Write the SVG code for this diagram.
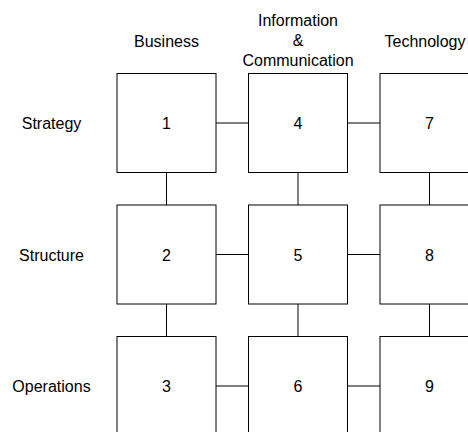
<svg xmlns="http://www.w3.org/2000/svg" width="468" height="432" viewBox="0 0 468 432">
<style>
text{font-family:"Liberation Sans",Arial,sans-serif;font-size:16px;fill:#000;text-anchor:middle}
.box{fill:#fff;stroke:#000;stroke-width:1}
.c{stroke:#000;stroke-width:1;fill:none}
</style>
<rect width="468" height="432" fill="#fff"/>
<g id="headers">
<text x="166.5" y="47">Business</text>
<text x="298" y="26">Information</text>
<text x="298" y="46">&amp;</text>
<text x="298" y="66">Communication</text>
<text x="425" y="47">Technology</text>
</g>
<g id="rows">
<text x="51.5" y="129">Strategy</text>
<text x="51.5" y="260.5">Structure</text>
<text x="51.5" y="392">Operations</text>
</g>
<g id="connectors">
<line class="c" x1="216" y1="123" x2="248.5" y2="123"/>
<line class="c" x1="347.5" y1="123" x2="380" y2="123"/>
<line class="c" x1="216" y1="254.5" x2="248.5" y2="254.5"/>
<line class="c" x1="347.5" y1="254.5" x2="380" y2="254.5"/>
<line class="c" x1="216" y1="386" x2="248.5" y2="386"/>
<line class="c" x1="347.5" y1="386" x2="380" y2="386"/>
<line class="c" x1="166.5" y1="172.5" x2="166.5" y2="205"/>
<line class="c" x1="166.5" y1="304" x2="166.5" y2="336.5"/>
<line class="c" x1="298" y1="172.5" x2="298" y2="205"/>
<line class="c" x1="298" y1="304" x2="298" y2="336.5"/>
<line class="c" x1="429.5" y1="172.5" x2="429.5" y2="205"/>
<line class="c" x1="429.5" y1="304" x2="429.5" y2="336.5"/>
</g>
<g id="n1"><rect class="box" x="117" y="73.5" width="99" height="99"/><text x="166.5" y="129">1</text></g>
<g id="n2"><rect class="box" x="117" y="205" width="99" height="99"/><text x="166.5" y="260.5">2</text></g>
<g id="n3"><rect class="box" x="117" y="336.5" width="99" height="99"/><text x="166.5" y="392">3</text></g>
<g id="n4"><rect class="box" x="248.5" y="73.5" width="99" height="99"/><text x="298" y="129">4</text></g>
<g id="n5"><rect class="box" x="248.5" y="205" width="99" height="99"/><text x="298" y="260.5">5</text></g>
<g id="n6"><rect class="box" x="248.5" y="336.5" width="99" height="99"/><text x="298" y="392">6</text></g>
<g id="n7"><rect class="box" x="380" y="73.5" width="99" height="99"/><text x="429.5" y="129">7</text></g>
<g id="n8"><rect class="box" x="380" y="205" width="99" height="99"/><text x="429.5" y="260.5">8</text></g>
<g id="n9"><rect class="box" x="380" y="336.5" width="99" height="99"/><text x="429.5" y="392">9</text></g>
</svg>
